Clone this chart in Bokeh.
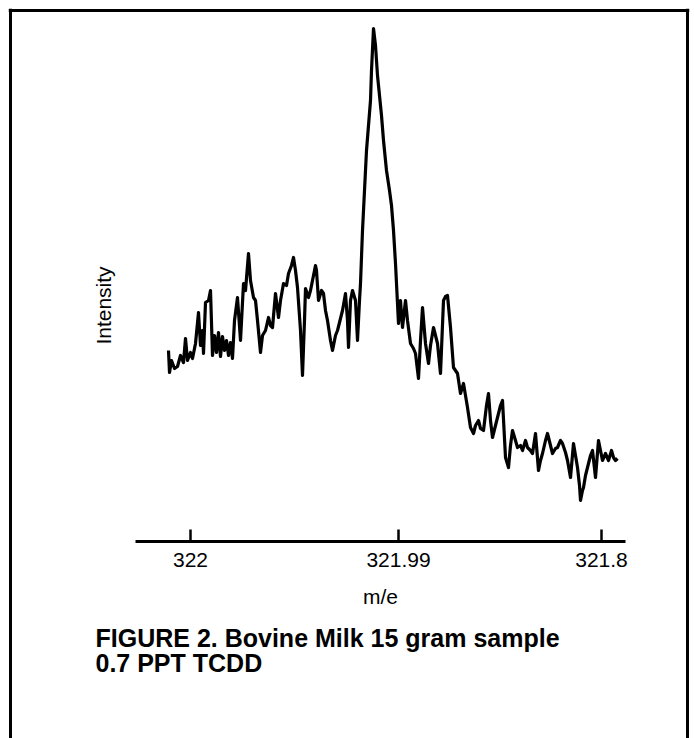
from bokeh.plotting import figure
from bokeh.models import Range1d, LinearAxis, FixedTicker, Span, Label
from bokeh.embed import file_html
from bokeh.resources import INLINE

# scan channel (arbitrary units) and detector intensity (arbitrary counts)
channel = [0, 1, 3, 6, 9, 12, 15, 17, 19, 22, 24, 27, 30, 32, 34, 35, 37, 40, 42, 44,
           46, 48, 50, 52, 54, 56, 58, 60, 62, 64, 66, 69, 72, 75, 77, 80, 82, 85, 87, 89,
           92, 94, 97, 100, 102, 104, 107, 110, 112, 115, 118, 120, 123, 125, 127, 129, 132, 134, 136, 137,
           140, 142, 144, 147, 148, 150, 153, 155, 157, 159, 162, 164, 167, 169, 172, 174, 177, 179, 180, 182,
           184, 187, 189, 191, 192, 194, 196, 198, 200, 202, 203, 205, 207, 209, 211, 213, 215, 218, 221, 223,
           225, 227, 230, 232, 234, 237, 239, 242, 245, 247, 250, 252, 254, 257, 260, 262, 265, 267, 269, 272,
           275, 277, 279, 282, 285, 287, 289, 292, 295, 297, 299, 302, 305, 307, 310, 312, 315, 318, 320, 322,
           324, 327, 329, 332, 334, 337, 340, 342, 344, 347, 349, 352, 354, 357, 359, 362, 364, 367, 370, 372,
           374, 377, 379, 382, 384, 387, 389, 392, 394, 397, 399, 402, 405, 407, 409, 411, 412, 414, 415, 417,
           419, 422, 424, 427, 430, 432, 434, 437, 440, 443, 445, 447, 449]
intensity = [191, 169, 181, 173, 175, 186, 179, 203, 181, 189, 183, 198, 229, 196, 211, 188, 239, 241, 251, 186,
             206, 189, 209, 185, 205, 191, 201, 186, 199, 183, 221, 244, 201, 258, 251, 288, 261, 244, 241, 221,
             189, 206, 211, 224, 216, 214, 248, 224, 241, 258, 256, 268, 276, 284, 271, 254, 211, 166, 221, 253,
             244, 251, 261, 276, 271, 241, 251, 248, 231, 221, 201, 191, 206, 211, 223, 231, 248, 221, 194, 241,
             251, 241, 201, 241, 258, 311, 351, 391, 416, 441, 471, 513, 496, 466, 446, 426, 401, 371, 351, 336,
             311, 278, 218, 241, 214, 241, 221, 198, 193, 188, 163, 201, 234, 198, 178, 196, 214, 206, 198, 168,
             241, 245, 246, 214, 174, 171, 168, 148, 158, 146, 134, 114, 108, 116, 121, 113, 111, 136, 148, 121,
             104, 116, 124, 136, 141, 84, 74, 96, 111, 101, 94, 96, 91, 101, 94, 91, 88, 108, 71, 81,
             88, 101, 108, 96, 88, 93, 94, 101, 98, 89, 81, 64, 98, 86, 74, 56, 41, 51, 54, 66,
             74, 86, 91, 64, 101, 91, 81, 88, 81, 91, 84, 81, 83]

tick_positions = [22, 230, 433]
tick_labels = ["322", "321.99", "321.8"]
x_label = "m/e"
y_label = "Intensity"
caption_line1 = "FIGURE 2.  Bovine Milk 15 gram sample"
caption_line2 = "0.7 PPT TCDD"

p = figure(width=694, height=738, output_backend="svg", toolbar_location=None,
           x_range=Range1d(-160, 521), y_range=Range1d(-197, 533),
           x_axis_type=None, y_axis_type=None,
           min_border_left=8, min_border_right=5, min_border_top=8, min_border_bottom=0)
p.outline_line_color = None
p.background_fill_color = "white"
p.border_fill_color = "white"

p.line(channel, intensity, line_color="black", line_width=3.2, line_join="round")

xaxis = LinearAxis(fixed_location=0,
                   ticker=FixedTicker(ticks=tick_positions),
                   major_label_overrides={t: l for t, l in zip(tick_positions, tick_labels)},
                   bounds=(-33, 457), axis_label=x_label)
xaxis.axis_line_width = 3
xaxis.axis_line_color = "black"
xaxis.major_tick_in = 12
xaxis.major_tick_out = 0
xaxis.major_tick_line_width = 2.5
xaxis.major_tick_line_color = "black"
xaxis.minor_tick_line_color = None
xaxis.major_label_standoff = 11
xaxis.major_label_text_font = "Liberation Sans"
xaxis.major_label_text_font_size = "21px"
xaxis.major_label_text_color = "black"
xaxis.axis_label_standoff = 15
xaxis.axis_label_text_font = "Liberation Sans"
xaxis.axis_label_text_font_size = "21px"
xaxis.axis_label_text_font_style = "normal"
xaxis.axis_label_text_color = "black"
p.add_layout(xaxis, "below")

# frame of the figure panel (open at the bottom)
for loc in (-158, 519):
    p.add_layout(Span(location=loc, dimension="height", line_color="black", line_width=3))
p.add_layout(Span(location=531, dimension="width", line_color="black", line_width=3))

p.add_layout(Label(x=-65, y=236, text=y_label, angle=90, angle_units="deg",
                   text_align="center", text_baseline="middle",
                   text_font="Liberation Sans", text_font_size="21px", text_color="black"))
p.add_layout(Label(x=-73, y=-96, text=caption_line1, text_baseline="middle",
                   text_font="Liberation Sans", text_font_style="bold",
                   text_font_size="25px", text_color="black"))
p.add_layout(Label(x=-73, y=-121, text=caption_line2, text_baseline="middle",
                   text_font="Liberation Sans", text_font_style="bold",
                   text_font_size="25px", text_color="black"))

open("out.html", "w").write(file_html(p, INLINE))
